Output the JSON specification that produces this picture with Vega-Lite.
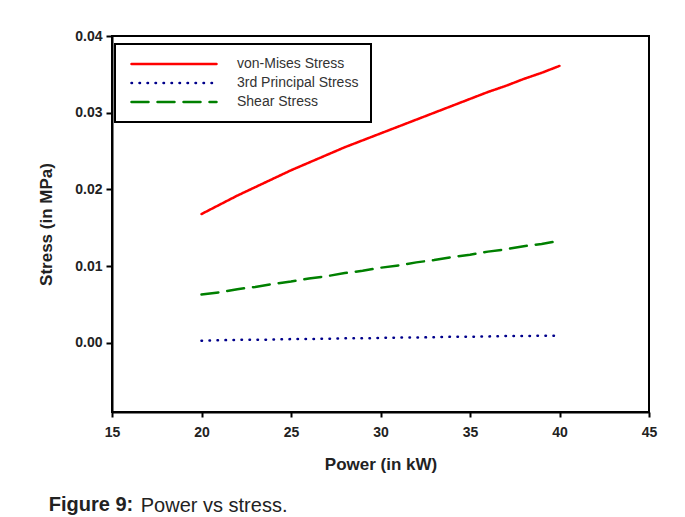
{
  "$schema": "https://vega.github.io/schema/vega-lite/v6.json",
  "background": "white",
  "padding": {"left": 36, "top": 28, "right": 10, "bottom": 2},
  "title": {"text": "Power vs stress.", "orient": "bottom", "anchor": "start", "font": "Liberation Sans", "fontSize": 20, "fontWeight": "normal", "color": "#222222", "dx": 104, "dy": -24},
  "vconcat": [
    {
      "title": {"text": "Figure 9:", "orient": "bottom", "anchor": "start", "font": "Liberation Sans", "fontSize": 20, "fontWeight": "bold", "color": "#222222", "dx": 11, "offset": 23},
      "width": 537,
      "height": 376,
      "data": {"values": [
        {"p": 20, "s": "von-Mises Stress", "v": 0.0168},
        {"p": 21, "s": "von-Mises Stress", "v": 0.0180},
        {"p": 22, "s": "von-Mises Stress", "v": 0.0192},
        {"p": 23, "s": "von-Mises Stress", "v": 0.0203},
        {"p": 24, "s": "von-Mises Stress", "v": 0.0214},
        {"p": 25, "s": "von-Mises Stress", "v": 0.0225},
        {"p": 26, "s": "von-Mises Stress", "v": 0.0235},
        {"p": 27, "s": "von-Mises Stress", "v": 0.0245},
        {"p": 28, "s": "von-Mises Stress", "v": 0.0255},
        {"p": 29, "s": "von-Mises Stress", "v": 0.0264},
        {"p": 30, "s": "von-Mises Stress", "v": 0.0273},
        {"p": 31, "s": "von-Mises Stress", "v": 0.0282},
        {"p": 32, "s": "von-Mises Stress", "v": 0.0291},
        {"p": 33, "s": "von-Mises Stress", "v": 0.0300},
        {"p": 34, "s": "von-Mises Stress", "v": 0.0309},
        {"p": 35, "s": "von-Mises Stress", "v": 0.0318},
        {"p": 36, "s": "von-Mises Stress", "v": 0.0327},
        {"p": 37, "s": "von-Mises Stress", "v": 0.0335},
        {"p": 38, "s": "von-Mises Stress", "v": 0.0344},
        {"p": 39, "s": "von-Mises Stress", "v": 0.0352},
        {"p": 40, "s": "von-Mises Stress", "v": 0.0361},
        {"p": 20, "s": "3rd Principal Stress", "v": 0.0003},
        {"p": 21, "s": "3rd Principal Stress", "v": 0.00035},
        {"p": 22, "s": "3rd Principal Stress", "v": 0.0004},
        {"p": 23, "s": "3rd Principal Stress", "v": 0.0004},
        {"p": 24, "s": "3rd Principal Stress", "v": 0.00045},
        {"p": 25, "s": "3rd Principal Stress", "v": 0.0005},
        {"p": 26, "s": "3rd Principal Stress", "v": 0.0005},
        {"p": 27, "s": "3rd Principal Stress", "v": 0.00055},
        {"p": 28, "s": "3rd Principal Stress", "v": 0.0006},
        {"p": 29, "s": "3rd Principal Stress", "v": 0.0006},
        {"p": 30, "s": "3rd Principal Stress", "v": 0.00065},
        {"p": 31, "s": "3rd Principal Stress", "v": 0.0007},
        {"p": 32, "s": "3rd Principal Stress", "v": 0.0007},
        {"p": 33, "s": "3rd Principal Stress", "v": 0.00075},
        {"p": 34, "s": "3rd Principal Stress", "v": 0.0008},
        {"p": 35, "s": "3rd Principal Stress", "v": 0.0008},
        {"p": 36, "s": "3rd Principal Stress", "v": 0.00085},
        {"p": 37, "s": "3rd Principal Stress", "v": 0.0009},
        {"p": 38, "s": "3rd Principal Stress", "v": 0.0009},
        {"p": 39, "s": "3rd Principal Stress", "v": 0.00095},
        {"p": 40, "s": "3rd Principal Stress", "v": 0.00095},
        {"p": 20, "s": "Shear Stress", "v": 0.0063},
        {"p": 21, "s": "Shear Stress", "v": 0.0066},
        {"p": 22, "s": "Shear Stress", "v": 0.0070},
        {"p": 23, "s": "Shear Stress", "v": 0.0073},
        {"p": 24, "s": "Shear Stress", "v": 0.0077},
        {"p": 25, "s": "Shear Stress", "v": 0.0080},
        {"p": 26, "s": "Shear Stress", "v": 0.0084},
        {"p": 27, "s": "Shear Stress", "v": 0.0087},
        {"p": 28, "s": "Shear Stress", "v": 0.0091},
        {"p": 29, "s": "Shear Stress", "v": 0.0094},
        {"p": 30, "s": "Shear Stress", "v": 0.0098},
        {"p": 31, "s": "Shear Stress", "v": 0.0101},
        {"p": 32, "s": "Shear Stress", "v": 0.0105},
        {"p": 33, "s": "Shear Stress", "v": 0.0108},
        {"p": 34, "s": "Shear Stress", "v": 0.0112},
        {"p": 35, "s": "Shear Stress", "v": 0.0115},
        {"p": 36, "s": "Shear Stress", "v": 0.0119},
        {"p": 37, "s": "Shear Stress", "v": 0.0122},
        {"p": 38, "s": "Shear Stress", "v": 0.0126},
        {"p": 39, "s": "Shear Stress", "v": 0.0129},
        {"p": 40, "s": "Shear Stress", "v": 0.0133}
      ]},
      "mark": {"type": "line", "strokeWidth": 2.5, "strokeCap": "round"},
      "encoding": {
        "x": {"field": "p", "type": "quantitative",
          "scale": {"domain": [15, 45], "nice": false, "zero": false},
          "axis": {"values": [15, 20, 25, 30, 35, 40, 45], "title": "Power (in kW)", "titlePadding": 17, "labelPadding": 8, "tickSize": 5, "labelFlush": false}},
        "y": {"field": "v", "type": "quantitative",
          "scale": {"domain": [-0.009, 0.04], "nice": false, "zero": false},
          "axis": {"values": [0, 0.01, 0.02, 0.03, 0.04], "format": ".2f", "title": "Stress (in MPa)", "titlePadding": 19, "labelPadding": 4, "tickSize": 6, "labelFlush": false}},
        "color": {"field": "s", "type": "nominal",
          "scale": {"domain": ["von-Mises Stress", "3rd Principal Stress", "Shear Stress"], "range": ["#ff0000", "#00008b", "#008000"]},
          "legend": {"title": null, "orient": "none", "legendX": 3, "legendY": 8, "strokeColor": "black", "padding": 12, "symbolType": "stroke", "symbolSize": 7225, "symbolStrokeWidth": 2.5, "symbolOffset": 3, "clipHeight": 16, "rowPadding": 3, "labelOffset": 19, "labelFont": "Liberation Sans", "labelFontSize": 14, "labelColor": "#333333",
            "encode": {"legend": {"update": {"strokeWidth": {"value": 2}}}, "symbols": {"update": {"strokeCap": {"value": "round"}}}}}},
        "strokeDash": {"field": "s", "type": "nominal",
          "scale": {"domain": ["von-Mises Stress", "3rd Principal Stress", "Shear Stress"], "range": [[1, 0], [0.5, 7.5], [17, 9]]},
          "legend": null}
      }
    }
  ],
  "config": {
    "view": {"stroke": "black", "strokeWidth": 2},
    "axis": {"grid": false, "domainColor": "black", "domainWidth": 2, "tickColor": "black", "tickWidth": 2,
      "labelFont": "Liberation Sans", "labelFontSize": 14, "labelFontWeight": "bold", "labelColor": "#222222",
      "titleFont": "Liberation Sans", "titleFontSize": 17, "titleFontWeight": "bold", "titleColor": "#222222"}
  }
}
